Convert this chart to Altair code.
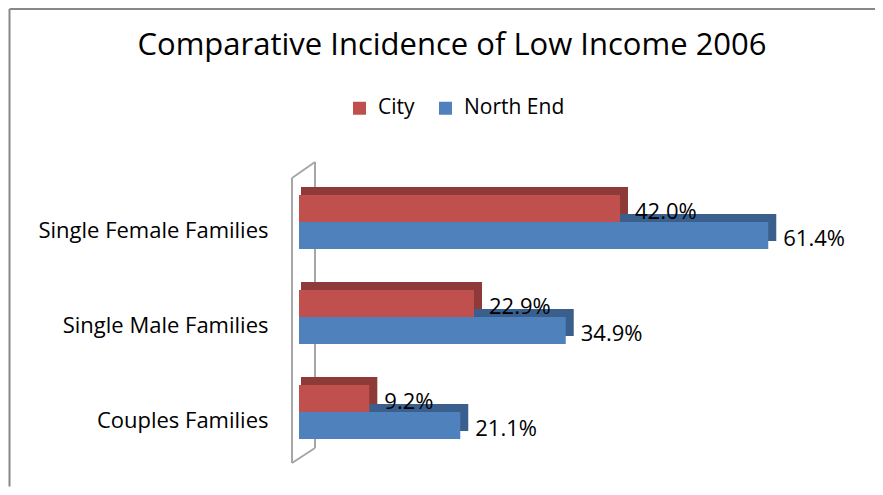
import altair as alt
import pandas as pd

categories = ["Single Female Families", "Single Male Families", "Couples Families"]
series = ["City", "North End"]
city = [42.0, 22.9, 9.2]
north_end = [61.4, 34.9, 21.1]

front_colors = ["#C0504D", "#4F81BD"]
depth_colors = {"City": "#8E3A38", "North End": "#3A5F8D"}
bar_offsets = {"City": -22.5, "North End": 4.5}

rows = []
for c, v in zip(categories, city):
    rows.append({"category": c, "series": "City", "value": v})
for c, v in zip(categories, north_end):
    rows.append({"category": c, "series": "North End", "value": v})
df = pd.DataFrame(rows)
df["label"] = df["value"].map(lambda v: f"{v:.1f}%")

FONT = "Open Sans"
W, H = 535, 285

x_enc = alt.X("value:Q", scale=alt.Scale(domain=[0, 70]), axis=None)
y_enc = alt.Y(
    "category:N",
    sort=categories,
    scale=alt.Scale(paddingInner=0, paddingOuter=0),
    axis=alt.Axis(
        title=None, domain=False, ticks=False, labelPadding=31,
        labelFontSize=22, labelFont=FONT, labelColor="#000000", labelLimit=400,
    ),
)
color_enc = alt.Color(
    "series:N",
    scale=alt.Scale(domain=series, range=front_colors),
    legend=alt.Legend(
        title=None, orient="none", legendX=50, legendY=-86, direction="horizontal",
        symbolType="square", symbolSize=169, symbolStrokeWidth=0, symbolOpacity=1,
        labelFont=FONT, labelFontSize=21, labelColor="#000000", labelOffset=8,
        columnPadding=20,
    ),
)

deco = pd.DataFrame({"k": [0]})


def rule(x, y, x2, y2, color, width):
    return alt.Chart(deco).mark_rule(color=color, strokeWidth=width).encode(
        x=alt.value(x), y=alt.value(y), x2=alt.value(x2), y2=alt.value(y2)
    )


wall_c = "#A6A6A6"
wall = [
    rule(-7, -5.5, -7, 279.5, wall_c, 2),
    rule(16, -21.5, 16, 264.5, wall_c, 2),
    rule(-7, -5.5, 16, -21.5, wall_c, 2),
    rule(-7, 279.5, 16, 264.5, wall_c, 2),
]
border = [
    rule(-289.5, -174.5, 576, -174.5, "#888888", 2),
    rule(-289.5, -174.5, -289.5, 303, "#888888", 2),
]

layers = wall + border
base = alt.Chart(df)
for s in series:
    layers.append(
        base.transform_filter(alt.datum.series == s)
        .mark_bar(size=27, xOffset=8, x2Offset=2, yOffset=bar_offsets[s] - 8,
                  color=depth_colors[s])
        .encode(x=x_enc, x2=alt.datum(0), y=y_enc)
    )
for s in series:
    layers.append(
        base.transform_filter(alt.datum.series == s)
        .mark_bar(size=27, yOffset=bar_offsets[s])
        .encode(x=x_enc, y=y_enc, color=color_enc)
    )
for s in series:
    layers.append(
        base.transform_filter(alt.datum.series == s)
        .mark_text(align="left", baseline="middle", dx=15, yOffset=bar_offsets[s] + 3,
                   font=FONT, fontSize=22, color="#000000")
        .encode(x=x_enc, y=y_enc, text="label:N")
    )

chart = alt.layer(*layers).properties(
    width=W,
    height=H,
    background="#FFFFFF",
    autosize=alt.AutoSizeParams(type="none"),
    padding={"left": 291, "top": 175.5, "right": 41, "bottom": 18},
    title=alt.TitleParams(
        "Comparative Incidence of Low Income 2006",
        font=FONT, fontSize=31, fontWeight="normal", color="#000000",
        anchor="middle", frame="group", dx=-114.5, dy=78, offset=0, baseline="alphabetic",
    ),
).configure_view(stroke="transparent", strokeWidth=0)

chart.save("out.html", embed_options={"renderer": "svg", "actions": False})
